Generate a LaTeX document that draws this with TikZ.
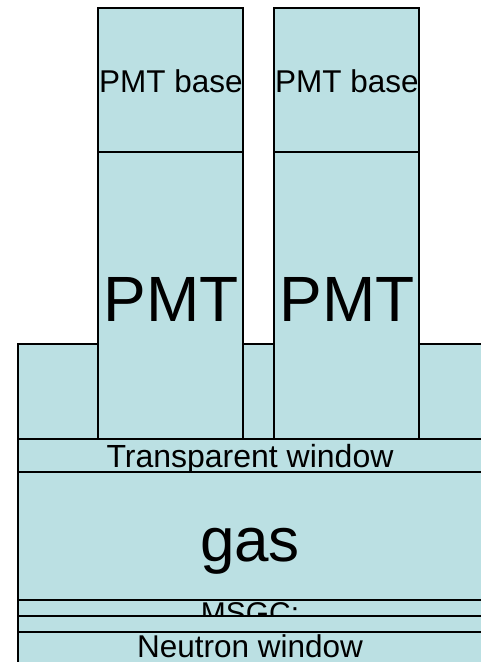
\documentclass[tikz,border=0pt]{standalone}
\usepackage{fontspec}
\setmainfont{Liberation Sans}
\definecolor{boxfill}{HTML}{BBE0E3}
\tikzset{
  box/.style={draw=black, fill=boxfill, line width=1.3pt, rectangle, inner sep=0pt, outer sep=0pt},
  smalltxt/.style={anchor=base, inner sep=0pt, font=\fontsize{31.5}{36}\selectfont},
  bigtxt/.style={anchor=base, inner sep=0pt, font=\fontsize{64}{72}\selectfont}
}
\begin{document}
\begin{tikzpicture}[x=1pt,y=-1pt]
\useasboundingbox (0,0) rectangle (481,662);
\clip (0,0) rectangle (481,662);
% housing
\node[box, minimum width=464pt, minimum height=95pt] (housing) at (250,391.5) {};
% PMT bases
\node[box, minimum width=145pt, minimum height=144pt] (base1) at (170.5,80) {};
\node[box, minimum width=145pt, minimum height=144pt] (base2) at (346.5,80) {};
\node[smalltxt] (base1t) at (171,92) {PMT base};
\node[smalltxt] (base2t) at (347,92) {PMT base};
% PMTs
\node[box, minimum width=145pt, minimum height=287pt] (pmt1) at (170.5,295.5) {};
\node[box, minimum width=145pt, minimum height=287pt] (pmt2) at (346.5,295.5) {};
\node[bigtxt] (pmt1t) at (171.5,321) {PMT};
\node[bigtxt] (pmt2t) at (347.5,321) {PMT};
% transparent window
\node[box, minimum width=464pt, minimum height=33pt] (twin) at (250,455.5) {};
\node[anchor=base, inner sep=0pt, font=\fontsize{32}{36}\selectfont] (twint) at (250,467) {Transparent window};
% gas
\node[box, minimum width=464pt, minimum height=128pt] (gas) at (250,536) {};
\node[anchor=base, inner sep=0pt, font=\fontsize{62}{70}\selectfont] (gast) at (250,561) {gas};
% MSGC
\node[box, minimum width=464pt, minimum height=16pt] (msgc) at (250,608) {};
\node[anchor=base, inner sep=0pt, font=\fontsize{30}{36}\selectfont] (msgct) at (250,623.5) {MSGC:};
% strip
\node[box, minimum width=464pt, minimum height=16pt] (strip) at (250,624) {};
% neutron window
\node[box, minimum width=464pt, minimum height=50pt] (nwin) at (250,657) {};
\node[smalltxt] (nwint) at (250,657) {Neutron window};
\end{tikzpicture}
\end{document}
